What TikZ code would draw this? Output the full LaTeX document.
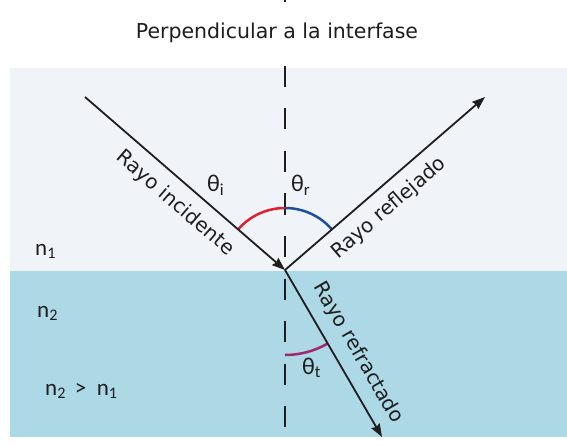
\documentclass[tikz,border=0pt]{standalone}
\usepackage{fontspec}
\setmainfont{DejaVu Sans}
\newfontfamily\calib{Carlito}
\usetikzlibrary{arrows.meta,calc}
\definecolor{ifInk}{HTML}{1E1E1E}
\definecolor{ifAir}{HTML}{F0F4F8}
\definecolor{ifWater}{HTML}{ADD8E6}
\definecolor{ifRed}{HTML}{E0202E}
\definecolor{ifBlue}{HTML}{1F4E9F}
\definecolor{ifPurple}{HTML}{A0286E}
\tikzset{
 optics/.style={x=1pt,y=1pt,text=ifInk},
 ray/.style={draw=ifInk,line width=1.8pt,-{Stealth[length=13pt,width=9.5pt,inset=1.5pt]}},
 normal/.style={draw=ifInk,line width=2.2pt,dash pattern=on 21pt off 21.5pt,dash phase=19pt},
 raylabel/.style={font=\fontsize{20}{24}\selectfont,sloped,inner sep=11pt},
 anglearc/.style={line width=2.5pt},
 angletext/.style={font=\calib\fontsize{24}{28}\selectfont,anchor=base west,inner sep=0pt},
 medium/.style={font=\calib\fontsize{23}{28}\selectfont,anchor=base west,inner sep=0pt},
 caption/.style={font=\fontsize{20.5}{24}\selectfont,fill=white,inner sep=2pt}
}
\begin{document}
\begin{tikzpicture}[optics]
 \useasboundingbox (0,0) rectangle (567,445);
 \fill[white] (0,0) rectangle (567,445);
 \fill[ifAir] (10,174) rectangle (567,377);
 \fill[ifWater] (10,8) rectangle (567,174);
 \coordinate (O) at (285,175);
 \coordinate (I) at (85,348);
 \coordinate (R) at (485,348);
 \coordinate (T) at (382,8);
 \coordinate (top) at (285,445); \coordinate (bot) at (285,0);
 \draw[normal] (top) -- (bot);
 \node[caption] (perp) at (277,412) {Perpendicular a la interfase};
 \draw[anglearc,ifRed] (O) ++(90:62) arc[start angle=90,end angle=139.1,radius=62];
 \draw[anglearc,ifBlue] (O) ++(90:62) arc[start angle=90,end angle=40.9,radius=62];
 \draw[anglearc,ifPurple] (O) ++(270:85) arc[start angle=270,end angle=300,radius=85];
 \draw[ray] (I) -- (O) node[raylabel,below,pos=.52] (inc) {Rayo incidente};
 \draw[ray] (O) -- (R) node[raylabel,below,pos=.45] (refl) {Rayo reflejado};
 \draw[ray] (O) -- (T) node[raylabel,above,pos=.56] (refr) {Rayo refractado};
 \node[angletext] (thi) at (207,253) {θ\textsubscript{i}};
 \node[angletext] (thr) at (291,253) {θ\textsubscript{r}};
 \node[angletext] (tht) at (302,71) {θ\textsubscript{t}};
 \node[medium] (n1) at (35,190) {n\textsubscript{1}};
 \node[medium] (n2) at (37,128) {n\textsubscript{2}};
 \node[medium] (cmp) at (45,50) {n\textsubscript{2} \,>\ \ n\textsubscript{1}};
\end{tikzpicture}
\end{document}
